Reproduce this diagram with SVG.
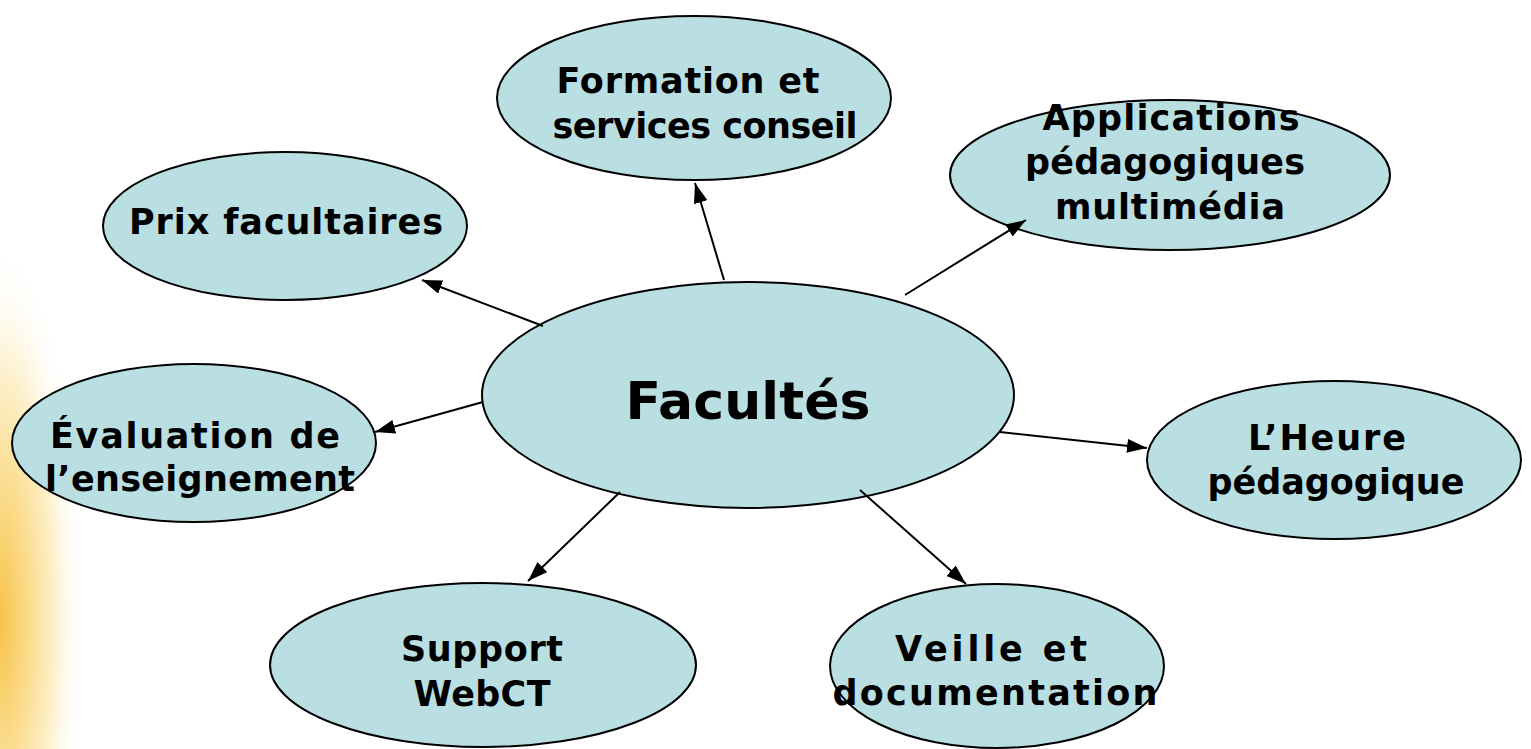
<svg xmlns="http://www.w3.org/2000/svg" width="1531" height="749" viewBox="0 0 1531 749">
<defs>
<radialGradient id="glow" cx="0" cy="620" r="1" gradientUnits="userSpaceOnUse" gradientTransform="translate(0 620) scale(85 380) translate(0 -620)">
<stop offset="0" stop-color="#f7c24a"/>
<stop offset="0.3" stop-color="#fad984"/>
<stop offset="0.65" stop-color="#fdf0cc"/>
<stop offset="1" stop-color="#ffffff" stop-opacity="0"/>
</radialGradient>
<marker id="ah" markerUnits="userSpaceOnUse" markerWidth="22" markerHeight="16" refX="20" refY="7" orient="auto">
<path d="M0,0 L20,7 L0,14 z" fill="#000"/>
</marker>
<style>
.node ellipse{fill:#b9dfe3;stroke:#000;stroke-width:2}
.node text{font-family:"DejaVu Sans","Liberation Sans",sans-serif;font-weight:bold;font-size:35px;fill:#000;text-anchor:middle}
.big text{font-size:52px}
#connectors line{stroke:#000;stroke-width:2;marker-end:url(#ah)}
</style>
</defs>
<rect width="1531" height="749" fill="#ffffff"/>
<ellipse cx="0" cy="620" rx="85" ry="380" fill="url(#glow)"/>

<g id="node-formation" class="node">
<ellipse cx="694" cy="98" rx="197" ry="82"/>
<text x="688" y="93" textLength="263">Formation et</text>
<text x="705" y="138" textLength="305">services conseil</text>
</g>
<g id="node-applications" class="node">
<ellipse cx="1170" cy="175" rx="220" ry="75"/>
<text x="1171" y="130" textLength="257">Applications</text>
<text x="1165" y="174" textLength="280">pédagogiques</text>
<text x="1170" y="219" textLength="230">multimédia</text>
</g>
<g id="node-prix" class="node">
<ellipse cx="285" cy="226" rx="182" ry="74"/>
<text x="286" y="234" textLength="314">Prix facultaires</text>
</g>
<g id="node-facultes" class="node big">
<ellipse cx="748" cy="395" rx="266" ry="113"/>
<text x="748" y="419" textLength="245">Facultés</text>
</g>
<g id="node-evaluation" class="node">
<ellipse cx="194" cy="443" rx="182" ry="79"/>
<text x="195" y="448" textLength="290">Évaluation de</text>
<text x="200" y="491" textLength="310">l’enseignement</text>
</g>
<g id="node-heure" class="node">
<ellipse cx="1334" cy="460" rx="187" ry="79"/>
<text x="1327" y="450" textLength="158">L’Heure</text>
<text x="1336" y="494" textLength="257">pédagogique</text>
</g>
<g id="node-support" class="node">
<ellipse cx="483" cy="665" rx="213" ry="82"/>
<text x="482" y="661" textLength="162">Support</text>
<text x="482" y="706" textLength="137">WebCT</text>
</g>
<g id="node-veille" class="node">
<ellipse cx="997" cy="666" rx="167" ry="82"/>
<text x="991" y="661" textLength="192">Veille et</text>
<text x="995" y="705" textLength="325">documentation</text>
</g>

<g id="connectors">
<line x1="724" y1="280" x2="695" y2="183"/>
<line x1="905" y1="295" x2="1026" y2="220"/>
<line x1="543" y1="326" x2="422" y2="280"/>
<line x1="483" y1="402" x2="375" y2="432"/>
<line x1="620" y1="492" x2="528" y2="581"/>
<line x1="860" y1="490" x2="966" y2="584"/>
<line x1="1000" y1="432" x2="1147" y2="448"/>
</g>
</svg>
